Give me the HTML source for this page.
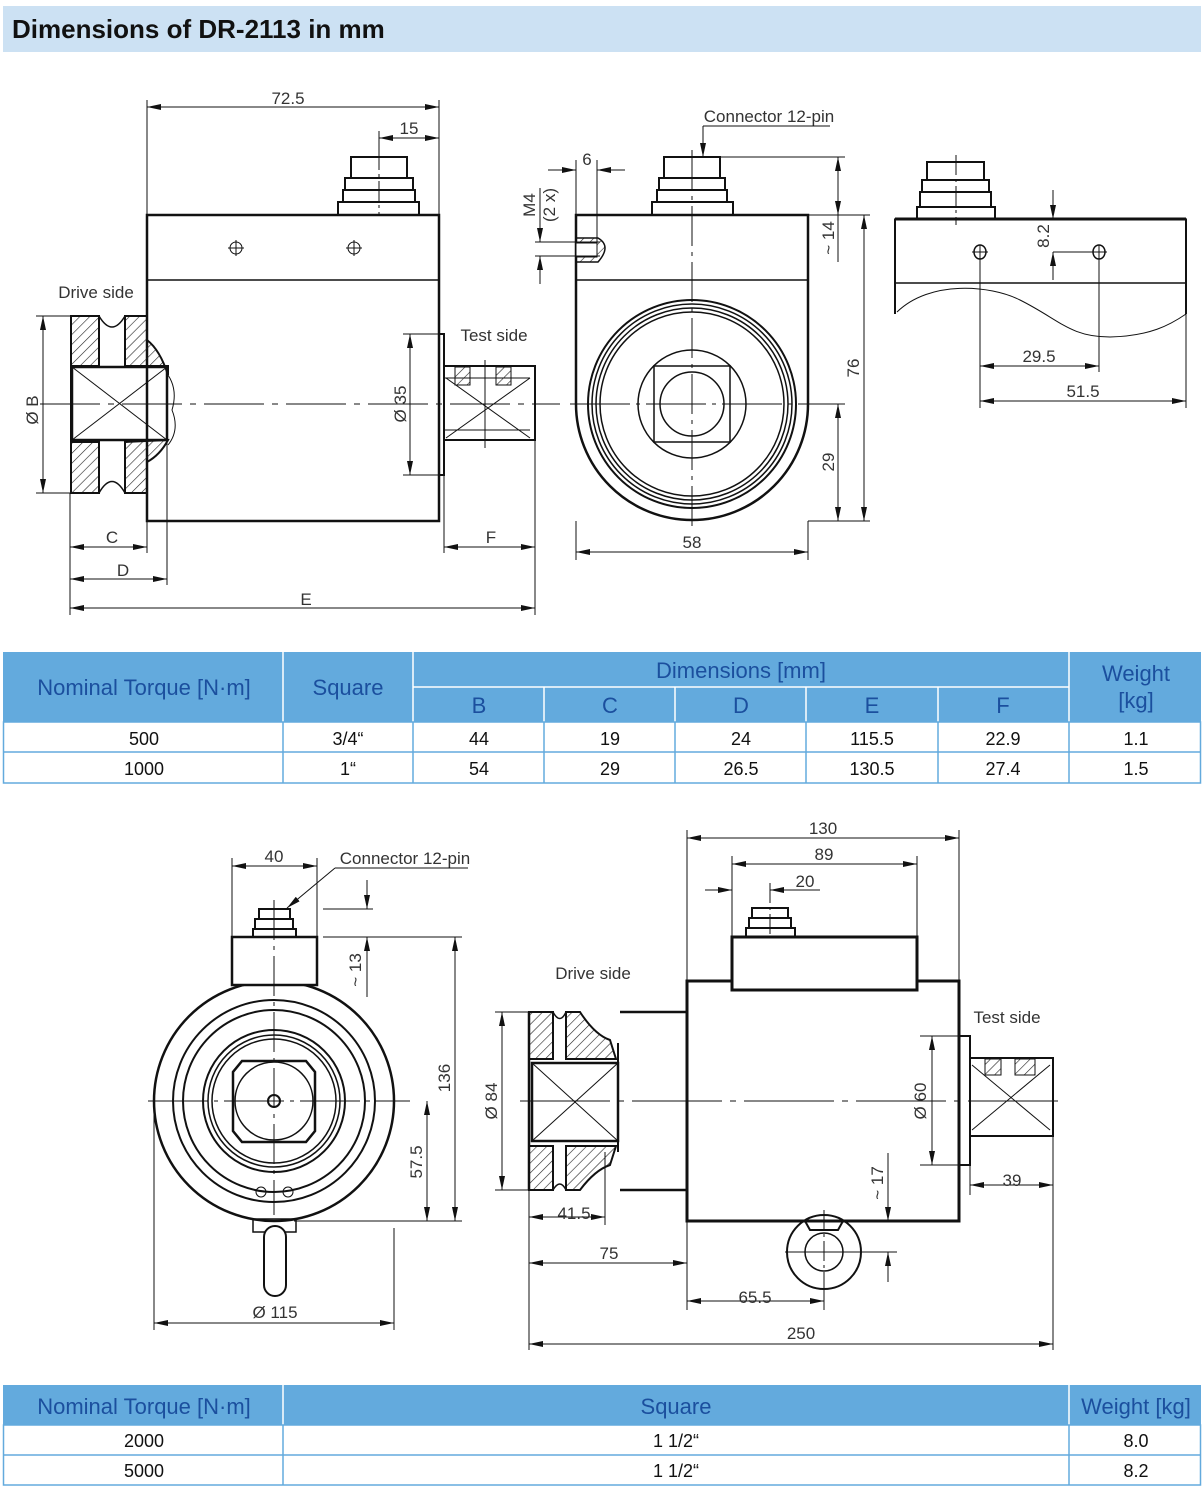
<!DOCTYPE html>
<html><head><meta charset="utf-8"><style>
html,body{margin:0;padding:0;background:#fff;}
svg{display:block;}
.t{font-family:"Liberation Sans Narrow","Liberation Sans",sans-serif;font-size:17px;fill:#333;}
.h{font-family:"Liberation Sans",sans-serif;font-size:22px;fill:#1b4f9e;}
.b{font-family:"Liberation Sans",sans-serif;font-size:18px;fill:#111;}
</style></head><body>
<svg width="1204" height="1489" viewBox="0 0 1204 1489" xmlns="http://www.w3.org/2000/svg">
<defs>
<marker id="a" viewBox="0 0 14 6" refX="14" refY="3" markerWidth="14" markerHeight="6" markerUnits="userSpaceOnUse" orient="auto-start-reverse"><path d="M0,0 L14,3 L0,6 z" fill="#111"/></marker>
<pattern id="hp" width="7" height="7" patternUnits="userSpaceOnUse" patternTransform="rotate(45)"><line x1="0" y1="0" x2="0" y2="7" stroke="#222" stroke-width="1.2"/></pattern>
</defs>
<rect x="3" y="6" width="1198" height="46" fill="#cce1f3"/>
<text x="12" y="38" font-family="Liberation Sans,sans-serif" font-size="26" font-weight="bold" fill="#111">Dimensions of DR-2113 in mm</text>

<g fill="none" stroke="#111" stroke-width="1">
<rect x="147" y="215" width="292" height="306" stroke-width="2.5"/>
<line x1="147" y1="280" x2="439" y2="280" stroke-width="1.5"/>
<circle cx="236" cy="248" r="6"/><line x1="228" y1="248" x2="244" y2="248"/><line x1="236" y1="240" x2="236" y2="256"/>
<circle cx="354" cy="248" r="6"/><line x1="346" y1="248" x2="362" y2="248"/><line x1="354" y1="240" x2="354" y2="256"/>
<g stroke-width="2"><rect x="351" y="157" width="56" height="21"/><rect x="345" y="178" width="68" height="12"/><rect x="343" y="190" width="72" height="12"/><rect x="338" y="202" width="81" height="13"/></g>
<line x1="379" y1="150" x2="379" y2="215" stroke-dasharray="20,4,3,4"/>
<rect x="71" y="316" width="28" height="50" fill="url(#hp)" stroke-width="2"/>
<rect x="71" y="442" width="28" height="51" fill="url(#hp)" stroke-width="2"/>
<path d="M125,316 L147,316 L147,340 Q160,350 168,375 L168,366 L125,366 Z" fill="url(#hp)" stroke-width="2"/>
<path d="M125,493 L147,493 L147,462 Q160,455 168,440 L125,442 Z" fill="url(#hp)" stroke-width="2"/>
<path d="M99,316 Q112,338 125,316 M99,493 Q112,470 125,493" stroke-width="1.5"/>
<line x1="71" y1="316" x2="71" y2="493" stroke-width="2"/>
<rect x="72" y="367" width="95" height="73" stroke-width="2.5"/>
<line x1="72" y1="367" x2="167" y2="440"/><line x1="72" y1="440" x2="167" y2="367"/>
<path d="M168,375 Q178,390 172,410 Q180,430 168,445"/>
<rect x="439" y="334" width="5" height="141" stroke-width="2"/>
<rect x="444" y="366" width="91" height="74" stroke-width="2"/>
<line x1="444" y1="378" x2="530" y2="378"/><line x1="444" y1="430" x2="530" y2="430"/>
<line x1="446" y1="378" x2="530" y2="438"/><line x1="446" y1="438" x2="530" y2="378"/>
<rect x="455" y="367" width="15" height="18" fill="url(#hp)"/><rect x="496" y="367" width="15" height="18" fill="url(#hp)"/>
<line x1="485" y1="360" x2="485" y2="448"/>
<line x1="40" y1="404" x2="560" y2="404" stroke-dasharray="60,8,6,8"/>
<line x1="147" y1="100" x2="147" y2="215"/><line x1="439" y1="100" x2="439" y2="215"/>
<line x1="147" y1="107" x2="439" y2="107" marker-start="url(#a)" marker-end="url(#a)"/>
<line x1="379" y1="131" x2="379" y2="157"/>
<line x1="379" y1="138" x2="439" y2="138" marker-start="url(#a)" marker-end="url(#a)"/>
<line x1="36" y1="316" x2="71" y2="316"/><line x1="36" y1="493" x2="71" y2="493"/>
<line x1="43" y1="316" x2="43" y2="493" marker-start="url(#a)" marker-end="url(#a)"/>
<line x1="403" y1="334" x2="444" y2="334"/><line x1="403" y1="475" x2="444" y2="475"/>
<line x1="410" y1="334" x2="410" y2="475" marker-start="url(#a)" marker-end="url(#a)"/>
<line x1="70" y1="493" x2="70" y2="615"/><line x1="147" y1="521" x2="147" y2="553"/><line x1="167" y1="440" x2="167" y2="585"/>
<line x1="444" y1="475" x2="444" y2="553"/><line x1="535" y1="440" x2="535" y2="615"/>
<line x1="70" y1="547" x2="147" y2="547" marker-start="url(#a)" marker-end="url(#a)"/>
<line x1="70" y1="579" x2="167" y2="579" marker-start="url(#a)" marker-end="url(#a)"/>
<line x1="70" y1="608" x2="535" y2="608" marker-start="url(#a)" marker-end="url(#a)"/>
<line x1="444" y1="547" x2="535" y2="547" marker-start="url(#a)" marker-end="url(#a)"/>

<path d="M576,215 L808,215 L808,404 A116,116 0 0 1 576,404 Z" stroke-width="2.5"/>
<line x1="576" y1="280" x2="808" y2="280" stroke-width="1.5"/>
<circle cx="692" cy="404" r="104" stroke-width="2"/><circle cx="692" cy="404" r="100" stroke-width="1.5"/><circle cx="692" cy="404" r="96" stroke-width="1.5"/><circle cx="692" cy="404" r="92" stroke-width="1.5"/>
<circle cx="692" cy="404" r="54" stroke-width="1.5"/>
<rect x="654" y="366" width="76" height="76" stroke-width="1.5"/>
<circle cx="692" cy="404" r="32" stroke-width="1.5"/>
<g stroke-width="2"><rect x="664" y="157" width="56" height="21"/><rect x="659" y="178" width="66" height="12"/><rect x="657" y="190" width="70" height="12"/><rect x="652" y="202" width="81" height="13"/></g>
<line x1="692" y1="150" x2="692" y2="530" stroke-dasharray="40,6,4,6"/>
<line x1="570" y1="404" x2="845" y2="404" stroke-dasharray="60,6,4,6"/>
<path d="M576,238 L598,238 Q612,246 598,262 L576,262 Z" fill="url(#hp)" stroke-width="1.5"/>
<rect x="576" y="243" width="21" height="14" fill="#fff"/>
<line x1="535" y1="242" x2="600" y2="242"/><line x1="535" y1="256" x2="600" y2="256"/>
<line x1="540" y1="188" x2="540" y2="242" marker-end="url(#a)"/><line x1="540" y1="284" x2="540" y2="256" marker-end="url(#a)"/>
<line x1="576" y1="160" x2="576" y2="215"/><line x1="597" y1="160" x2="597" y2="242"/>
<line x1="548" y1="170" x2="576" y2="170" marker-end="url(#a)"/><line x1="625" y1="170" x2="597" y2="170" marker-end="url(#a)"/>
<line x1="703" y1="126" x2="830" y2="126"/><line x1="703" y1="126" x2="703" y2="157" marker-end="url(#a)"/>
<line x1="720" y1="157" x2="845" y2="157"/><line x1="808" y1="215" x2="870" y2="215"/>
<line x1="838" y1="157" x2="838" y2="215" marker-start="url(#a)" marker-end="url(#a)"/>
<line x1="808" y1="521" x2="870" y2="521"/><line x1="808" y1="404" x2="845" y2="404"/>
<line x1="864" y1="215" x2="864" y2="521" marker-start="url(#a)" marker-end="url(#a)"/>
<line x1="838" y1="404" x2="838" y2="521" marker-start="url(#a)" marker-end="url(#a)"/>
<line x1="838" y1="215" x2="838" y2="262"/>
<line x1="576" y1="521" x2="576" y2="560"/><line x1="808" y1="521" x2="808" y2="560"/>
<line x1="576" y1="552" x2="808" y2="552" marker-start="url(#a)" marker-end="url(#a)"/>

<rect x="895" y="219" width="291" height="64" stroke-width="1.5"/>
<line x1="895" y1="219" x2="1186" y2="219" stroke-width="3"/>
<line x1="895" y1="219" x2="895" y2="314" stroke-width="2"/><line x1="1186" y1="219" x2="1186" y2="314" stroke-width="2"/>
<path d="M897,312 C930,280 990,285 1020,300 C1060,320 1070,337 1110,337 C1150,336 1170,325 1186,314"/>
<g stroke-width="2"><rect x="927" y="162" width="57" height="18"/><rect x="922" y="180" width="67" height="12"/><rect x="920" y="192" width="71" height="15"/><rect x="917" y="207" width="78" height="12"/></g>
<line x1="956" y1="155" x2="956" y2="225" stroke-dasharray="20,4,3,4"/>
<ellipse cx="980" cy="252" rx="6" ry="7" stroke-width="1.5"/><line x1="972" y1="252" x2="988" y2="252"/>
<ellipse cx="1099" cy="252" rx="6" ry="7" stroke-width="1.5"/><line x1="1091" y1="252" x2="1107" y2="252"/>
<line x1="980" y1="245" x2="980" y2="408"/><line x1="1099" y1="245" x2="1099" y2="372"/><line x1="1186" y1="314" x2="1186" y2="408"/>
<line x1="1053" y1="190" x2="1053" y2="219" marker-end="url(#a)"/><line x1="1053" y1="280" x2="1053" y2="252" marker-end="url(#a)"/>
<line x1="1053" y1="252" x2="1093" y2="252"/>
<line x1="980" y1="366" x2="1099" y2="366" marker-start="url(#a)" marker-end="url(#a)"/>
<line x1="980" y1="401" x2="1186" y2="401" marker-start="url(#a)" marker-end="url(#a)"/>

<circle cx="274" cy="1101" r="120" stroke-width="2.5"/>
<circle cx="274" cy="1101" r="101" stroke-width="2"/><circle cx="274" cy="1101" r="91" stroke-width="2"/>
<circle cx="274" cy="1101" r="71" stroke-width="2"/><circle cx="274" cy="1101" r="66" stroke-width="1.5"/><circle cx="274" cy="1101" r="62" stroke-width="1.5"/>
<path d="M242,1061 L306,1061 L315,1072 L315,1131 L306,1142 L242,1142 L233,1131 L233,1072 Z" stroke-width="2.5"/>
<circle cx="274" cy="1101" r="39" stroke-width="1.5"/>
<circle cx="274" cy="1101" r="6" stroke-width="2"/>
<rect x="232" y="937" width="85" height="48" stroke-width="2.5" fill="#fff"/>
<g stroke-width="2"><rect x="259" y="909" width="31" height="10"/><rect x="255" y="919" width="38" height="10"/><rect x="253" y="929" width="43" height="8"/></g>
<circle cx="261" cy="1192" r="5"/><circle cx="288" cy="1192" r="5"/>
<rect x="253" y="1219" width="43" height="13" stroke-width="1.5"/>
<rect x="264" y="1226" width="22" height="70" rx="11" stroke-width="2" fill="#fff"/>
<line x1="274" y1="900" x2="274" y2="1215" stroke-dasharray="40,6,4,6"/>
<line x1="148" y1="1101" x2="410" y2="1101" stroke-dasharray="60,6,4,6"/>
<line x1="232" y1="858" x2="232" y2="937"/><line x1="317" y1="858" x2="317" y2="937"/>
<line x1="232" y1="866" x2="317" y2="866" marker-start="url(#a)" marker-end="url(#a)"/>
<line x1="335" y1="868" x2="468" y2="868"/><line x1="335" y1="868" x2="287" y2="908" marker-end="url(#a)"/>
<line x1="323" y1="909" x2="373" y2="909"/><line x1="323" y1="937" x2="462" y2="937"/>
<line x1="367" y1="880" x2="367" y2="909" marker-end="url(#a)"/><line x1="367" y1="997" x2="367" y2="937" marker-end="url(#a)"/>
<line x1="294" y1="1221" x2="462" y2="1221"/>
<line x1="455" y1="937" x2="455" y2="1221" marker-start="url(#a)" marker-end="url(#a)"/>
<line x1="427" y1="1101" x2="427" y2="1221" marker-start="url(#a)" marker-end="url(#a)"/>
<line x1="154" y1="1101" x2="154" y2="1330"/><line x1="394" y1="1228" x2="394" y2="1330"/>
<line x1="154" y1="1323" x2="394" y2="1323" marker-start="url(#a)" marker-end="url(#a)"/>

<rect x="687" y="981" width="272" height="240" stroke-width="3"/>
<rect x="732" y="937" width="185" height="53" stroke-width="3" fill="#fff"/>
<g stroke-width="2"><rect x="752" y="908" width="36" height="10"/><rect x="749" y="918" width="42" height="10"/><rect x="746" y="928" width="49" height="9"/></g>
<line x1="770" y1="883" x2="770" y2="935" stroke-dasharray="20,4,3,4"/>
<line x1="620" y1="1012" x2="687" y2="1012" stroke-width="2.5"/><line x1="620" y1="1190" x2="687" y2="1190" stroke-width="2.5"/>
<rect x="529" y="1012" width="24" height="47" fill="url(#hp)" stroke-width="2"/>
<rect x="529" y="1146" width="24" height="44" fill="url(#hp)" stroke-width="2"/>
<path d="M566,1012 L580,1012 Q595,1035 610,1040 L616,1059 L566,1059 Z" fill="url(#hp)" stroke-width="2"/>
<path d="M566,1190 L580,1190 Q595,1170 610,1165 L616,1146 L566,1146 Z" fill="url(#hp)" stroke-width="2"/>
<path d="M553,1012 Q560,1025 566,1012 M553,1190 Q560,1178 566,1190" stroke-width="1.5"/>
<rect x="532" y="1063" width="86" height="78" stroke-width="2.5"/>
<line x1="532" y1="1063" x2="618" y2="1141"/><line x1="532" y1="1141" x2="618" y2="1063"/>
<line x1="618" y1="1043" x2="618" y2="1152" stroke-width="2"/>
<line x1="529" y1="1012" x2="529" y2="1190" stroke-width="2.5"/>
<rect x="959" y="1036" width="11" height="129" stroke-width="2"/>
<rect x="970" y="1058" width="83" height="78" stroke-width="2"/>
<line x1="972" y1="1065" x2="1050" y2="1130"/><line x1="972" y1="1130" x2="1050" y2="1065"/>
<rect x="985" y="1059" width="16" height="16" fill="url(#hp)"/><rect x="1015" y="1059" width="20" height="16" fill="url(#hp)"/>
<circle cx="824" cy="1252" r="37" stroke-width="2"/><circle cx="824" cy="1252" r="19" stroke-width="1.5"/>
<path d="M805,1221 L810,1230 L838,1230 L843,1221" stroke-width="2"/>
<line x1="824" y1="1210" x2="824" y2="1310" stroke-dasharray="20,4,3,4"/>
<line x1="785" y1="1252" x2="897" y2="1252"/>
<line x1="520" y1="1101" x2="1060" y2="1101" stroke-dasharray="90,8,6,8"/>
<line x1="687" y1="830" x2="687" y2="981"/><line x1="959" y1="830" x2="959" y2="981"/>
<line x1="687" y1="838" x2="959" y2="838" marker-start="url(#a)" marker-end="url(#a)"/>
<line x1="732" y1="856" x2="732" y2="937"/><line x1="917" y1="856" x2="917" y2="937"/>
<line x1="732" y1="864" x2="917" y2="864" marker-start="url(#a)" marker-end="url(#a)"/>
<line x1="705" y1="890" x2="732" y2="890" marker-end="url(#a)"/><line x1="800" y1="890" x2="770" y2="890" marker-end="url(#a)"/><line x1="770" y1="890" x2="820" y2="890"/>
<line x1="495" y1="1012" x2="529" y2="1012"/><line x1="495" y1="1190" x2="529" y2="1190"/>
<line x1="502" y1="1012" x2="502" y2="1190" marker-start="url(#a)" marker-end="url(#a)"/>
<line x1="920" y1="1036" x2="959" y2="1036"/><line x1="920" y1="1165" x2="959" y2="1165"/>
<line x1="932" y1="1036" x2="932" y2="1165" marker-start="url(#a)" marker-end="url(#a)"/>
<line x1="888" y1="1153" x2="888" y2="1221" marker-end="url(#a)"/><line x1="888" y1="1282" x2="888" y2="1252" marker-end="url(#a)"/>
<line x1="529" y1="1190" x2="529" y2="1350"/><line x1="605" y1="1152" x2="605" y2="1225"/><line x1="687" y1="1221" x2="687" y2="1310"/>
<line x1="824" y1="1290" x2="824" y2="1310"/><line x1="1053" y1="1136" x2="1053" y2="1350"/><line x1="970" y1="1165" x2="970" y2="1195"/>
<line x1="529" y1="1217" x2="605" y2="1217" marker-start="url(#a)" marker-end="url(#a)"/>
<line x1="529" y1="1263" x2="687" y2="1263" marker-start="url(#a)" marker-end="url(#a)"/>
<line x1="687" y1="1301" x2="824" y2="1301" marker-start="url(#a)" marker-end="url(#a)"/>
<line x1="529" y1="1344" x2="1053" y2="1344" marker-start="url(#a)" marker-end="url(#a)"/>
<line x1="970" y1="1185" x2="1053" y2="1185" marker-start="url(#a)" marker-end="url(#a)"/>
</g>

<g class="t">
<text x="288" y="104" text-anchor="middle">72.5</text>
<text x="409" y="134" text-anchor="middle">15</text>
<text x="96" y="298" text-anchor="middle">Drive side</text>
<text x="494" y="341" text-anchor="middle">Test side</text>
<text x="38" y="410" text-anchor="middle" transform="rotate(-90 38 410)">Ø B</text>
<text x="406" y="404" text-anchor="middle" transform="rotate(-90 406 404)">Ø 35</text>
<text x="112" y="543" text-anchor="middle">C</text>
<text x="123" y="576" text-anchor="middle">D</text>
<text x="306" y="605" text-anchor="middle">E</text>
<text x="491" y="543" text-anchor="middle">F</text>
<text x="769" y="122" text-anchor="middle">Connector 12-pin</text>
<text x="587" y="165" text-anchor="middle">6</text>
<text x="535" y="205" text-anchor="middle" transform="rotate(-90 535 205)">M4</text>
<text x="555" y="205" text-anchor="middle" transform="rotate(-90 555 205)">(2 x)</text>
<text x="834" y="238" text-anchor="middle" transform="rotate(-90 834 238)">~ 14</text>
<text x="859" y="368" text-anchor="middle" transform="rotate(-90 859 368)">76</text>
<text x="834" y="462" text-anchor="middle" transform="rotate(-90 834 462)">29</text>
<text x="692" y="548" text-anchor="middle">58</text>
<text x="1049" y="236" text-anchor="middle" transform="rotate(-90 1049 236)">8.2</text>
<text x="1039" y="362" text-anchor="middle">29.5</text>
<text x="1083" y="397" text-anchor="middle">51.5</text>
<text x="274" y="862" text-anchor="middle">40</text>
<text x="405" y="864" text-anchor="middle">Connector 12-pin</text>
<text x="361" y="970" text-anchor="middle" transform="rotate(-90 361 970)">~ 13</text>
<text x="450" y="1078" text-anchor="middle" transform="rotate(-90 450 1078)">136</text>
<text x="422" y="1162" text-anchor="middle" transform="rotate(-90 422 1162)">57.5</text>
<text x="275" y="1318" text-anchor="middle">Ø  115</text>
<text x="823" y="834" text-anchor="middle">130</text>
<text x="824" y="860" text-anchor="middle">89</text>
<text x="805" y="887" text-anchor="middle">20</text>
<text x="593" y="979" text-anchor="middle">Drive side</text>
<text x="1007" y="1023" text-anchor="middle">Test side</text>
<text x="497" y="1101" text-anchor="middle" transform="rotate(-90 497 1101)">Ø  84</text>
<text x="926" y="1101" text-anchor="middle" transform="rotate(-90 926 1101)">Ø 60</text>
<text x="883" y="1183" text-anchor="middle" transform="rotate(-90 883 1183)">~ 17</text>
<text x="574" y="1219" text-anchor="middle">41.5</text>
<text x="609" y="1259" text-anchor="middle">75</text>
<text x="755" y="1303" text-anchor="middle">65.5</text>
<text x="801" y="1339" text-anchor="middle">250</text>
<text x="1012" y="1186" text-anchor="middle">39</text>
</g>

<rect x="3" y="652" width="1198" height="70" fill="#63aadd"/>
<g stroke="#fff" stroke-width="1.5">
<line x1="283" y1="652" x2="283" y2="722"/><line x1="413" y1="652" x2="413" y2="722"/><line x1="1069" y1="652" x2="1069" y2="722"/>
<line x1="413" y1="687" x2="1069" y2="687"/>
<line x1="544" y1="687" x2="544" y2="722"/><line x1="675" y1="687" x2="675" y2="722"/><line x1="806" y1="687" x2="806" y2="722"/><line x1="938" y1="687" x2="938" y2="722"/>
</g>
<g stroke="#63aadd" stroke-width="1.5" fill="none">
<rect x="3.5" y="722" width="1197" height="61"/>
<line x1="3" y1="752" x2="1201" y2="752"/>
<line x1="283" y1="722" x2="283" y2="783"/><line x1="413" y1="722" x2="413" y2="783"/><line x1="544" y1="722" x2="544" y2="783"/><line x1="675" y1="722" x2="675" y2="783"/><line x1="806" y1="722" x2="806" y2="783"/><line x1="938" y1="722" x2="938" y2="783"/><line x1="1069" y1="722" x2="1069" y2="783"/>
</g>
<g class="h" text-anchor="middle">
<text x="144" y="695">Nominal Torque [N·m]</text>
<text x="348" y="695">Square</text>
<text x="741" y="678">Dimensions [mm]</text>
<text x="1136" y="681">Weight</text><text x="1136" y="708">[kg]</text>
<text x="479" y="713">B</text><text x="610" y="713">C</text><text x="741" y="713">D</text><text x="872" y="713">E</text><text x="1003" y="713">F</text>
</g>
<g class="b" text-anchor="middle">
<text x="144" y="745">500</text><text x="348" y="745">3/4“</text><text x="479" y="745">44</text><text x="610" y="745">19</text><text x="741" y="745">24</text><text x="872" y="745">115.5</text><text x="1003" y="745">22.9</text><text x="1136" y="745">1.1</text>
<text x="144" y="775">1000</text><text x="348" y="775">1“</text><text x="479" y="775">54</text><text x="610" y="775">29</text><text x="741" y="775">26.5</text><text x="872" y="775">130.5</text><text x="1003" y="775">27.4</text><text x="1136" y="775">1.5</text>
</g>

<rect x="3" y="1385" width="1198" height="40" fill="#63aadd"/>
<g stroke="#fff" stroke-width="1.5"><line x1="283" y1="1385" x2="283" y2="1425"/><line x1="1069" y1="1385" x2="1069" y2="1425"/></g>
<g stroke="#63aadd" stroke-width="1.5" fill="none">
<rect x="3.5" y="1425" width="1197" height="60"/>
<line x1="3" y1="1455" x2="1201" y2="1455"/>
<line x1="283" y1="1425" x2="283" y2="1485"/><line x1="1069" y1="1425" x2="1069" y2="1485"/>
</g>
<g class="h" text-anchor="middle">
<text x="144" y="1414">Nominal Torque [N·m]</text>
<text x="676" y="1414">Square</text>
<text x="1136" y="1414">Weight [kg]</text>
</g>
<g class="b" text-anchor="middle">
<text x="144" y="1447">2000</text><text x="676" y="1447">1 1/2“</text><text x="1136" y="1447">8.0</text>
<text x="144" y="1477">5000</text><text x="676" y="1477">1 1/2“</text><text x="1136" y="1477">8.2</text>
</g>
</svg>
</body></html>
